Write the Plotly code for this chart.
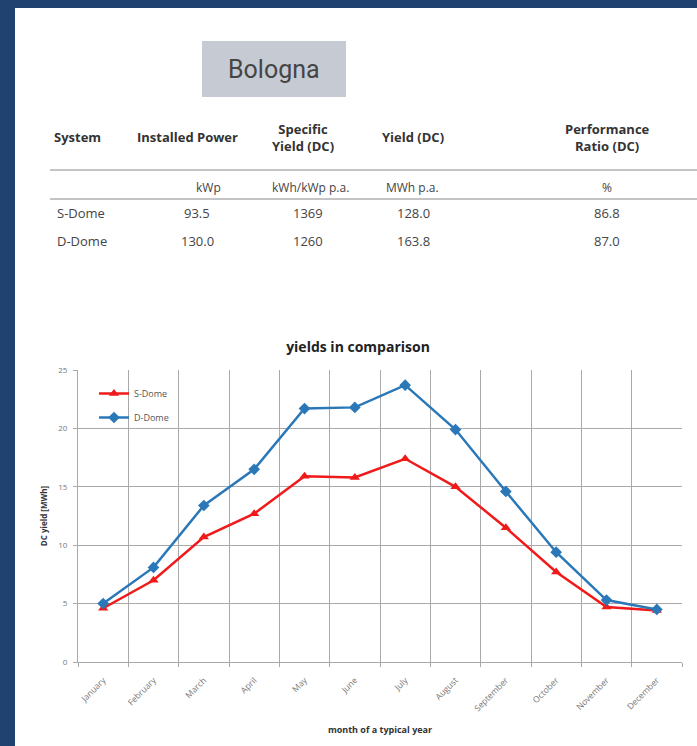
import plotly.graph_objects as go

months = ["January", "February", "March", "April", "May", "June", "July",
          "August", "September", "October", "November", "December"]
s_dome = [4.6, 7.0, 10.7, 12.7, 15.9, 15.8, 17.4, 15.0, 11.5, 7.7, 4.7, 4.4]
d_dome = [5.0, 8.1, 13.4, 16.5, 21.7, 21.8, 23.7, 19.9, 14.6, 9.4, 5.3, 4.5]

table_header = ["System", "Installed Power", "Specific<br>Yield (DC)", "Yield (DC)", "Performance<br>Ratio (DC)"]
table_units = ["", "kWp", "kWh/kWp p.a.", "MWh p.a.", "%"]
table_rows = [
    ["S-Dome", "93.5", "1369", "128.0", "86.8"],
    ["D-Dome", "130.0", "1260", "163.8", "87.0"],
]

W, H = 697, 746
L, R, T, B = 78, 682, 370, 662  # plot area in pixels


def px(x):
    return (x - L) / (R - L)


def py(y):
    return 1 - (y - T) / (B - T)


fig = go.Figure()
fig.add_trace(go.Scatter(x=months, y=s_dome, name="S-Dome", mode="lines+markers", legendgroup="s",
                         line=dict(color="#f01a1a", width=2.5),
                         marker=dict(symbol="triangle-up", size=9, color="#f01a1a")))
fig.add_trace(go.Scatter(x=months, y=d_dome, name="D-Dome", mode="lines+markers", legendgroup="d",
                         line=dict(color="#2b78b8", width=2.5),
                         marker=dict(symbol="diamond", size=9, color="#2b78b8")))

shapes = [
    dict(type="rect", xref="paper", yref="paper", x0=px(15), x1=px(700), y0=py(8), y1=py(750),
         fillcolor="white", line=dict(width=0), layer="below"),
    dict(type="rect", xref="paper", yref="paper", x0=px(202), x1=px(346), y0=py(41), y1=py(97),
         fillcolor="#c6cad3", line=dict(width=0), layer="below"),
    dict(type="line", xref="paper", yref="paper", x0=px(50), x1=px(697), y0=py(170), y1=py(170),
         line=dict(color="#8a8a8a", width=1)),
    dict(type="line", xref="paper", yref="paper", x0=px(50), x1=px(697), y0=py(199), y1=py(199),
         line=dict(color="#8a8a8a", width=1)),
]


def ann(text, x, y, size, color, xanchor="center", family="Open Sans"):
    return dict(text=text, x=px(x), y=py(y), xref="paper", yref="paper", showarrow=False,
                xanchor=xanchor, yanchor="middle", font=dict(family=family, size=size, color=color))


annotations = [ann("Bologna", 274, 69, 25, "#454545", family="Roboto")]

col_x = [52, 187, 303, 413, 607]
for i, h in enumerate(table_header):
    annotations.append(ann("<b>" + h + "</b>", col_x[i], 137, 13, "#333333",
                           xanchor="left" if i == 0 else "center"))
unit_x = [57, 208, 310, 412, 607]
for i, u in enumerate(table_units):
    if u:
        annotations.append(ann(u, unit_x[i], 187, 12, "#444444"))
row_y = [213, 241]
data_x = [55, 197, 308, 413, 607]
for r, row in enumerate(table_rows):
    for i, v in enumerate(row):
        annotations.append(ann(v, data_x[i], row_y[r], 13, "#444444",
                               xanchor="left" if i == 0 else "center"))

fig.update_layout(
    width=W, height=H,
    margin=dict(l=L, r=W - R, t=T, b=H - B),
    paper_bgcolor="#1f4270",
    plot_bgcolor="white",
    shapes=shapes,
    annotations=annotations,
    title=dict(text="<b>yields in comparison</b>", x=358 / W, xanchor="center",
               y=1 - 347 / H, yanchor="middle", yref="container", xref="container",
               font=dict(family="Open Sans", size=14, color="#222222")),
    font=dict(family="Open Sans", color="#666666"),
    legend=dict(x=px(94), y=py(379), xanchor="left", yanchor="top", bgcolor="rgba(0,0,0,0)",
                font=dict(size=9, color="#555555"), itemwidth=30, tracegroupgap=5),
    xaxis=dict(type="category", tickson="boundaries", ticks="outside", ticklen=4, tickcolor="#aaaaaa",
               showgrid=True, gridcolor="#a9a9a9", gridwidth=1, tickangle=-45, ticklabelstandoff=9,
               tickfont=dict(size=8.5, color="#777777"), showline=True, linecolor="#a9a9a9",
               mirror=False, range=[-0.5, 11.5],
               title=dict(text="<b>month of a typical year</b>", font=dict(size=9, color="#333333"),
                          standoff=14)),
    yaxis=dict(range=[0, 25], dtick=5, showgrid=True, gridcolor="#a9a9a9", gridwidth=1,
               ticks="outside", ticklen=4, tickcolor="#aaaaaa", showline=True, linecolor="#a9a9a9",
               zeroline=False, tickfont=dict(size=8, color="#777777"), ticklabelstandoff=4,
               title=dict(text="<b>DC yield [MWh]</b>", font=dict(size=8, color="#333333"), standoff=9)),
)

fig.write_html("out.html", config={"displayModeBar": False},
               post_script="document.body.style.margin='0px';document.body.style.overflow='hidden';")
